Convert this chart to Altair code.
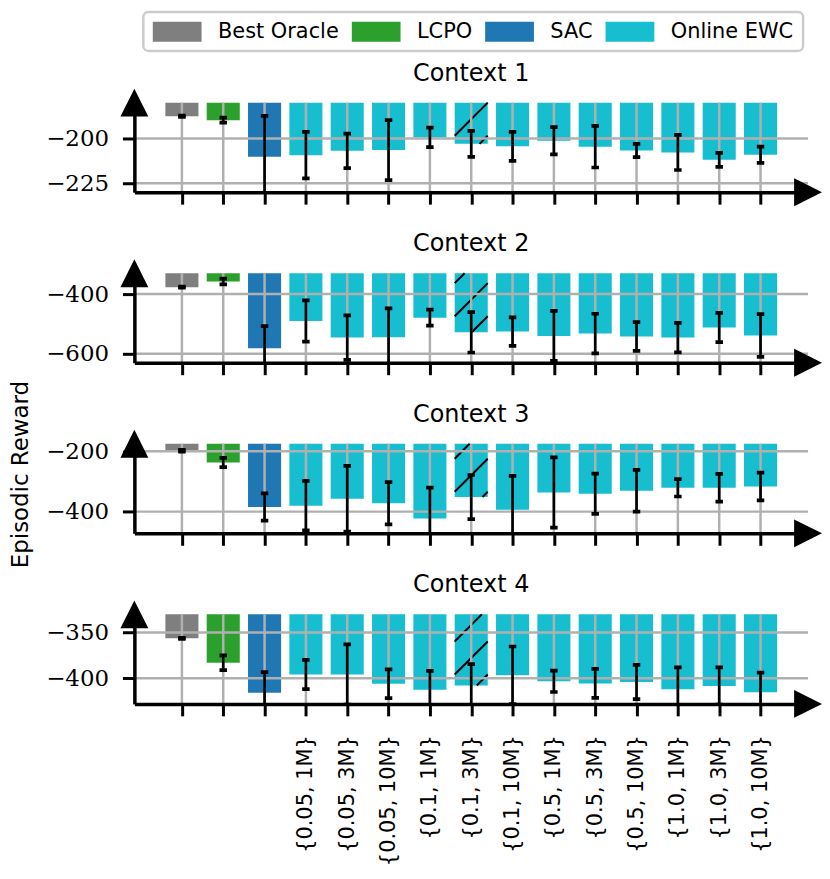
import json
import altair as alt
import pandas as pd

# ---------------- data ----------------
methods = ["Best Oracle", "LCPO", "SAC",
           "{0.05, 1M}", "{0.05, 3M}", "{0.05, 10M}",
           "{0.1, 1M}", "{0.1, 3M}", "{0.1, 10M}",
           "{0.5, 1M}", "{0.5, 3M}", "{0.5, 10M}",
           "{1.0, 1M}", "{1.0, 3M}", "{1.0, 10M}"]
groups = ["Best Oracle", "LCPO", "SAC"] + ["Online EWC"] * 12
tick_labels = ["", "", ""] + methods[3:]
hatched_method = "{0.1, 3M}"

contexts = ["Context 1", "Context 2", "Context 3", "Context 4"]
y_title = "Episodic Reward"

means_c1 = [-187.6, -189.8, -210.2, -209.3, -206.9, -206.5, -199.4, -203.0,
            -204.4, -201.3, -204.6, -206.7, -207.8, -211.9, -209.1]
errs_c1 = [0.3, 1.4, 22.8, 13.0, 9.6, 16.8, 5.4, 7.3, 8.1, 7.6, 11.6, 3.7,
           9.8, 3.9, 4.5]

means_c2 = [-376.7, -357.8, -581.0, -490.0, -545.6, -544.4, -478.9, -527.8,
            -525.6, -540.0, -532.0, -542.0, -545.6, -512.2, -538.9]
errs_c2 = [2.0, 9.5, 74.0, 69.0, 74.5, 96.6, 26.7, 67.8, 47.8, 84.0, 66.2,
           48.3, 49.4, 49.0, 71.6]

means_c3 = [-197.8, -237.4, -384.6, -380.2, -357.1, -372.5, -423.1, -351.6,
            -393.4, -336.3, -340.7, -330.8, -320.9, -320.9, -316.5]
errs_c3 = [3.0, 15.4, 45.0, 82.0, 109.0, 70.0, 103.0, 73.0, 112.0, 116.5,
           66.5, 69.0, 29.0, 46.0, 46.0]

means_c4 = [-356.3, -383.0, -415.9, -395.9, -395.9, -405.9, -412.6, -407.8,
            -396.7, -403.3, -405.6, -404.1, -411.9, -408.5, -415.2]
errs_c4 = [0.5, 8.0, 22.6, 16.0, 33.0, 15.7, 20.7, 23.4, 31.5, 11.7, 15.8,
           18.7, 23.8, 20.4, 21.5]

all_means = [means_c1, means_c2, means_c3, means_c4]
all_errs = [errs_c1, errs_c2, errs_c3, errs_c4]

y_domains = [[-230, -180], [-630, -330], [-472, -175], [-428, -330]]
y_ticks = [[-225, -200], [-600, -400], [-400, -200], [-400, -350]]
hatch_phase = [0, 10, 15, -6]

group_domain = ["Best Oracle", "LCPO", "SAC", "Online EWC"]
group_colors = ["#7f7f7f", "#2ca02c", "#1f77b4", "#17becf"]

# ---------------- layout constants ----------------
W = 677
H = 90
N = len(methods)
X_DOMAIN = [-1.15, N + 0.15]
STEP_PX = W / (X_DOMAIN[1] - X_DOMAIN[0])
HALF = 0.4
FONT = "DejaVu Sans"
SERIF = "DejaVu Serif"

label_expr = json.dumps(tick_labels) + "[datum.value]"

legend = alt.Legend(
    orient="none", legendX=9, legendY=-91, direction="horizontal",
    title=None, symbolType="M-1,-1H3.9V1H-1Z", symbolSize=400,
    symbolStrokeWidth=0, symbolOpacity=1,
    labelFont=FONT, labelFontSize=21, labelColor="black",
    labelOffset=45, columnPadding=12, padding=9,
    strokeColor="#cccccc", cornerRadius=5, fillColor="white",
)


def panel(i):
    means = all_means[i]
    errs = all_errs[i]
    df = pd.DataFrame({
        "idx": list(range(N)),
        "method": methods,
        "group": groups,
        "mean": means,
        "lo": [m - e for m, e in zip(means, errs)],
        "hi": [m + e for m, e in zip(means, errs)],
    })
    dom = y_domains[i]
    xscale = alt.Scale(domain=X_DOMAIN, nice=False, zero=False)
    yscale = alt.Scale(domain=dom, nice=False, zero=False)

    xaxis = alt.Axis(
        values=list(range(N)), labels=(i == 3), labelExpr=label_expr,
        title=None, grid=False, labelAngle=-90,
        labelOverlap=False, labelFlush=False, zindex=1,
    )
    yaxis = alt.Axis(values=y_ticks[i], title=None, grid=False,
                     labelOverlap=False, zindex=1)

    def X(field):
        return alt.X(field, scale=xscale, axis=xaxis)

    def Y(field):
        return alt.Y(field, scale=yscale, axis=yaxis)

    base = alt.Chart(df)
    bars = base.transform_calculate(
        xa=f"datum.idx - {HALF}", xb=f"datum.idx + {HALF}"
    ).mark_bar(strokeWidth=0).encode(
        x=X("xa:Q"),
        x2="xb:Q",
        y=Y("mean:Q"),
        y2=alt.value(0),
        color=alt.Color("group:N", scale=alt.Scale(domain=group_domain,
                                                    range=group_colors),
                        legend=legend),
    )

    # hatch for one bar, derived from its value and the scales
    hi_idx = methods.index(hatched_method)
    ppu = H / (dom[1] - dom[0])
    bottom_px = (dom[1] - means[hi_idx]) * ppu
    bw = 2 * HALF * STEP_PX
    segs = []
    for k in range(-4, 12):
        yr = hatch_phase[i] + k * bw
        d0 = max(0.0, -yr)
        d1 = min(bw, bottom_px - yr)
        if d1 <= d0:
            continue
        segs.append({
            "hx": hi_idx + HALF - d0 / STEP_PX,
            "hx2": hi_idx + HALF - d1 / STEP_PX,
            "hy": dom[1] - (yr + d0) / ppu,
            "hy2": dom[1] - (yr + d1) / ppu,
        })
    hatch = alt.Chart(pd.DataFrame(segs)).mark_rule(
        color="black", strokeWidth=2
    ).encode(x=X("hx:Q"), x2="hx2:Q", y=Y("hy:Q"), y2="hy2:Q")

    vgrid = base.mark_rule(color="#b0b0b0", strokeWidth=2.5).encode(
        x=X("idx:Q")
    )
    hgrid = alt.Chart(pd.DataFrame({"t": y_ticks[i]})).mark_rule(
        color="#b0b0b0", strokeWidth=2.5
    ).encode(y=Y("t:Q"))

    err = base.mark_rule(color="black", strokeWidth=2.7, clip=True).encode(
        x=X("idx:Q"), y=Y("lo:Q"), y2="hi:Q",
    )
    caps = base.transform_fold(["lo", "hi"], as_=["end", "v"]).mark_point(
        shape="M-1,-0.5H1V0.5H-1Z", size=56, filled=True, color="black",
        opacity=1, clip=True
    ).encode(x=X("idx:Q"), y=Y("v:Q"))

    one = alt.Chart(pd.DataFrame({"title": [contexts[i]], "yt": [y_title]}))
    arrow_up = one.mark_point(shape="M0,-1L1,1L-1,1Z", size=784, filled=True,
                              color="black", opacity=1).encode(
        x=alt.value(0), y=alt.value(0))
    arrow_right = one.mark_point(shape="M1,0L-1,-1L-1,1Z", size=784,
                                 filled=True, color="black", opacity=1).encode(
        x=alt.value(W), y=alt.value(H))
    title = one.mark_text(font=FONT, fontSize=24, color="black",
                          align="center", baseline="alphabetic").encode(
        x=alt.value(W / 2), y=alt.value(-22), text="title:N")

    layers = [bars, hatch, vgrid, hgrid, err, caps, arrow_up, arrow_right,
              title]
    if i == 2:
        ytitle = one.mark_text(font=FONT, fontSize=23, color="black",
                               align="center", baseline="alphabetic",
                               angle=270).encode(
            x=alt.value(-107), y=alt.value(31), text="yt:N")
        layers.append(ytitle)

    return alt.layer(*layers).properties(width=W, height=H)


chart = alt.vconcat(
    *[panel(i) for i in range(4)], spacing=81.4, bounds="flush"
).properties(
    padding={"left": 2, "top": 0, "right": 0, "bottom": 0}
).configure_view(stroke=None).configure_legend(
    strokeWidth=2.5
).configure_axis(
    domainColor="black", domainWidth=3.5, tickColor="black", tickWidth=3,
    tickSize=12, labelColor="black",
).configure_axisX(
    labelFont=FONT, labelFontSize=21, labelPadding=19,
).configure_axisY(
    labelFont=SERIF, labelFontSize=23, labelPadding=14,
)

chart.save("out.html", embed_options={"renderer": "svg", "actions": False})
